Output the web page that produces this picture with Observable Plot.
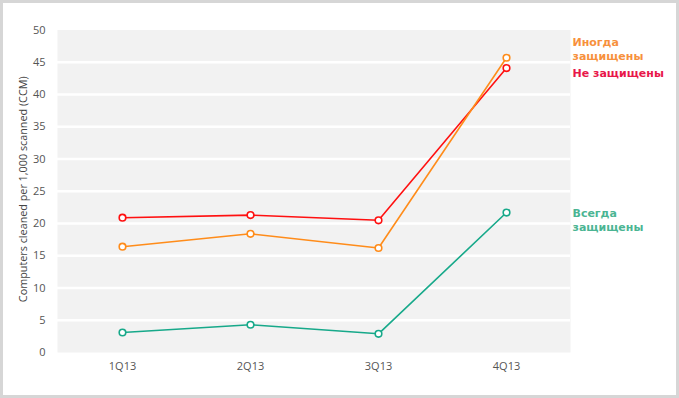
<!DOCTYPE html>
<html>
<head>
<meta charset="utf-8">
<script src="https://cdn.jsdelivr.net/npm/d3@7"></script>
<script src="https://cdn.jsdelivr.net/npm/@observablehq/plot@0.6"></script>
<style>
  html, body { margin: 0; padding: 0; background: #fff; }
  #wrap { width: 679px; height: 398px; box-sizing: border-box; border: 3px solid #d6d6d6; background: #fff; overflow: hidden; }
  svg { display: block; }
</style>
</head>
<body>
<div id="wrap"></div>
<script>
const quarters = ["1Q13", "2Q13", "3Q13", "4Q13"];
const seriesNames = ["Не защищены", "Иногда защищены", "Всегда защищены"];
const unprotected = [20.9, 21.3, 20.5, 44.1];
const sometimes = [16.4, 18.4, 16.2, 45.7];
const always = [3.1, 4.3, 2.9, 21.7];
const yTicks = [0, 5, 10, 15, 20, 25, 30, 35, 40, 45, 50];
const gridValues = [5, 10, 15, 20, 25, 30, 35, 40, 45];
const labelTexts = ["Не защищены", "Иногда\nзащищены", "Всегда\nзащищены"];
const yTitle = "Computers cleaned per 1,000 scanned (CCM)";

const lineColors = ["#ff1010", "#ff8c1a", "#17a98a"];
const labelColors = ["#e8174a", "#f7913d", "#4bb593"];

const seriesValues = [unprotected, sometimes, always];
const data = [];
seriesValues.forEach((vals, i) => vals.forEach((v, j) => data.push({series: seriesNames[i], q: quarters[j], v})));

const ends = seriesNames.map((s, i) => ({series: s, q: quarters[quarters.length - 1], v: seriesValues[i][quarters.length - 1], label: labelTexts[i]}));

const labelDy = [4.5, -9, 7];

const chart = Plot.plot({
  width: 673,
  height: 392,
  marginLeft: 54,
  marginRight: 106,
  marginTop: 26.5,
  marginBottom: 43,
  style: {fontFamily: "'Segoe UI', 'Open Sans', sans-serif", fontSize: "11px", color: "#555", background: "#fff"},
  x: {type: "point", domain: quarters, padding: 0.5, label: null},
  y: {domain: [0, 50], label: null},
  color: {domain: seriesNames, range: lineColors},
  marks: [
    Plot.frame({fill: "#f2f2f2", stroke: null}),
    Plot.ruleY(gridValues, {stroke: "#ffffff", strokeWidth: 2.5}),
    Plot.axisY({ticks: yTicks, tickSize: 0, tickPadding: 12, label: null, fill: "#555", fontSize: 11}),
    Plot.axisX({tickSize: 0, tickPadding: 10, fill: "#555", fontSize: 11, label: null}),
    Plot.text([yTitle], {text: d => d, frameAnchor: "left", textAnchor: "middle", rotate: -90, dx: -34, dy: -2, fill: "#444", fontSize: 10.8}),
    Plot.line(data, {x: "q", y: "v", z: "series", stroke: "series", strokeWidth: 1.6}),
    Plot.dot(data, {x: "q", y: "v", stroke: "series", fill: "white", r: 3.3, strokeWidth: 1.6}),
    ...ends.map((d, i) => Plot.text([d], {
      x: "q", y: "v", text: "label", textAnchor: "start", dx: 66, dy: labelDy[i],
      fill: labelColors[i], fontWeight: "bold", fontSize: 11,
      fontFamily: "'DejaVu Sans', Verdana, sans-serif", lineHeight: 1.25
    }))
  ]
});
document.getElementById("wrap").appendChild(chart);
</script>
</body>
</html>
